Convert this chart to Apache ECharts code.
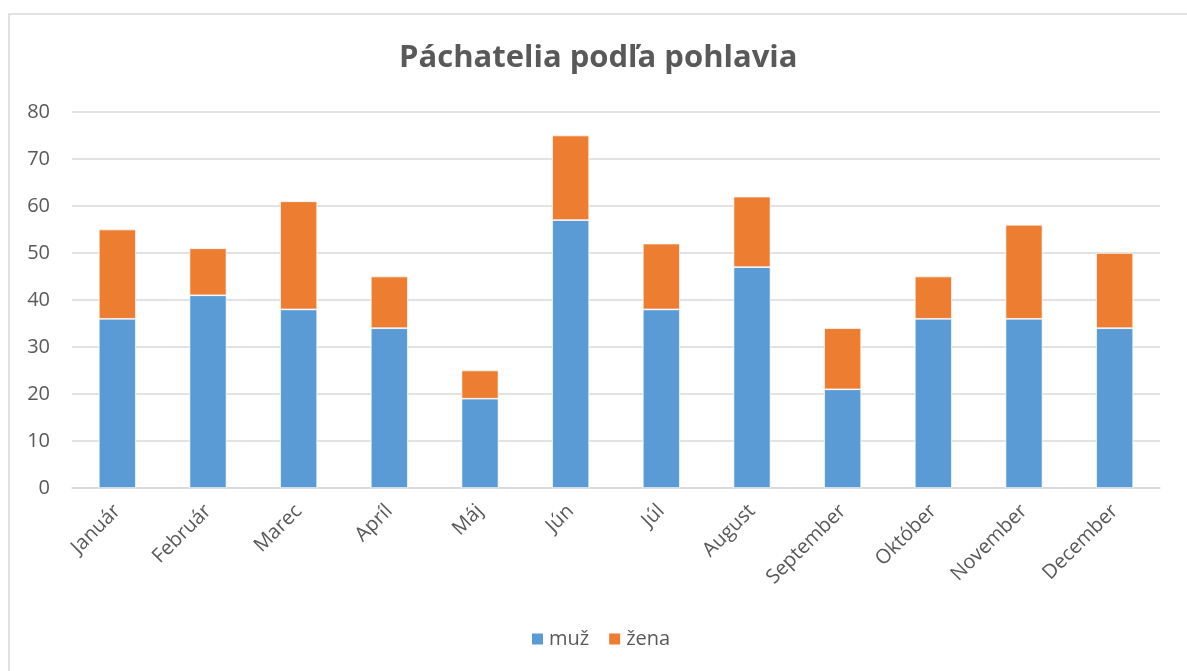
<!DOCTYPE html>
<html>
<head>
<meta charset="utf-8">
<script src="https://cdn.jsdelivr.net/npm/echarts@6/dist/echarts.min.js"></script>
<style>
  html, body { margin: 0; padding: 0; background: #fff; }
  #chart { width: 1187px; height: 671px; }
</style>
</head>
<body>
<div id="chart"></div>
<script>
var months = ['Január', 'Február', 'Marec', 'Apríl', 'Máj', 'Jún', 'Júl', 'August', 'September', 'Október', 'November', 'December']
var muz = [36, 41, 38, 34, 19, 57, 38, 47, 21, 36, 36, 34]
var zena = [19, 10, 23, 11, 6, 18, 14, 15, 13, 9, 20, 16]

var textColor = '#595959'
var fontName = 'Open Sans'

var chart = echarts.init(document.getElementById('chart'))
chart.setOption({
  animation: false,
  textStyle: { fontFamily: fontName },
  graphic: [{
    type: 'rect',
    shape: { x: 9, y: 14, width: 1300, height: 800 },
    style: { fill: 'none', stroke: '#d9d9d9', lineWidth: 1.5 },
    silent: true
  }],
  title: {
    text: 'Páchatelia podľa pohlavia',
    left: 394,
    top: 38,
    textStyle: { color: textColor, fontSize: 31, fontWeight: 'bold', fontFamily: fontName }
  },
  legend: {
    bottom: 17,
    left: 525,
    itemWidth: 13,
    itemHeight: 13,
    itemGap: 18,
    icon: 'rect',
    textStyle: { color: textColor, fontSize: 20, fontFamily: fontName },
    data: ['muž', 'žena']
  },
  grid: {
    left: 72,
    right: 27,
    top: 112,
    bottom: 183
  },
  xAxis: {
    type: 'category',
    data: months,
    axisTick: { show: false },
    axisLine: { lineStyle: { color: '#d9d9d9', width: 1.5 } },
    axisLabel: {
      rotate: 45,
      color: textColor,
      fontSize: 20,
      margin: 20,
      fontFamily: fontName
    }
  },
  yAxis: {
    type: 'value',
    min: 0,
    max: 80,
    interval: 10,
    axisLine: { show: false },
    axisTick: { show: false },
    axisLabel: { color: textColor, fontSize: 20, margin: 22, fontFamily: fontName },
    splitLine: { lineStyle: { color: '#d9d9d9', width: 1.5 } }
  },
  series: [{
    name: 'muž',
    type: 'bar',
    stack: 'total',
    barWidth: 37,
    data: muz,
    itemStyle: { color: '#5b9bd5', borderColor: '#ffffff', borderWidth: 0.7 }
  }, {
    name: 'žena',
    type: 'bar',
    stack: 'total',
    barWidth: 37,
    data: zena,
    itemStyle: { color: '#ed7d31', borderColor: '#ffffff', borderWidth: 0.7 }
  }]
})
</script>
</body>
</html>
